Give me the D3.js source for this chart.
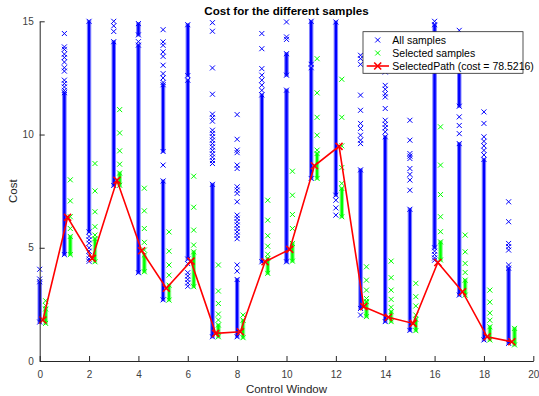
<!DOCTYPE html>
<html>
<head>
<meta charset="utf-8">
<script src="https://cdn.jsdelivr.net/npm/d3@7"></script>
<style>
  body { margin: 0; background: #fff; }
  svg { display: block; font-family: "Liberation Sans", Arial, Helvetica, sans-serif; }
</style>
</head>
<body>
<div id="chart"></div>
<script>
// control windows 0..19
const windows = [0,1,2,3,4,5,6,7,8,9,10,11,12,13,14,15,16,17,18,19];

// "All samples": dense stretches [lo, hi] and isolated markers, per window
const blueRuns = [
  [[1.72, 3.5]],
  [[4.7, 11.85]],
  [[5.7, 15.0]],
  [[7.75, 14.1]],
  [[14.4, 14.9], [3.9, 13.95]],
  [[9.25, 12.2], [2.7, 7.95]],
  [[12.6, 14.85], [4.5, 12.4]],
  [[1.07, 7.8]],
  [[1.07, 3.6]],
  [[4.38, 11.75]],
  [[12.62, 13.57], [4.38, 11.96]],
  [[13.1, 15.0], [8.06, 12.95]],
  [[7.32, 14.97]],
  [[2.32, 8.44]],
  [[1.74, 9.9]],
  [[1.35, 6.7]],
  [[5.0, 14.85]],
  [[11.25, 12.9], [2.91, 9.6]],
  [[0.93, 8.9]],
  [[0.78, 4.1]]
];
const blueSparse = [
  [4.05, 3.62],
  [14.46, 13.87, 13.76, 13.55, 13.4, 13.2, 12.95, 12.8, 12.4, 12.25, 12.1, 11.95],
  [5.5, 5.35, 5.2, 5.0, 4.85, 4.65, 4.5, 4.4],
  [15.0, 14.8, 14.55],
  [14.1],
  [14.63, 14.09, 13.94, 13.65, 13.45, 13.06, 12.69, 12.5, 12.3, 8.65],
  [4.3, 3.9, 3.75, 3.6, 3.45, 3.3],
  [14.94, 14.56, 12.94, 11.78, 10.9, 10.75, 10.59, 10.19, 10.05, 9.9, 9.75, 9.6, 9.45, 9.3, 9.15, 9.0, 8.85, 8.72],
  [10.88, 9.79, 9.31, 9.2, 8.65, 8.5, 7.69, 7.55, 7.4, 7.03, 6.44, 6.3, 6.15, 6.0, 5.85, 5.7, 5.55, 5.4, 4.24, 3.97],
  [14.46, 13.79, 12.91, 12.62, 12.4, 12.18, 11.95],
  [14.97, 14.31, 14.2],
  [],
  [7.1, 6.76, 6.44],
  [13.5, 13.35, 13.1, 11.74, 11.07, 10.49, 10.27, 9.97, 9.75, 9.6, 2.03],
  [13.5, 13.16, 12.76, 12.17, 12.0, 11.8, 11.66, 11.15, 10.63, 10.45, 10.3, 10.12],
  [10.63, 9.75, 9.16, 9.05, 8.94, 8.5, 8.24, 7.99, 7.54],
  [15.0, 4.85, 4.7, 4.55, 4.45],
  [14.6, 10.78, 10.4, 10.04],
  [11.0, 10.49, 9.9, 9.7, 9.5, 9.3, 9.1],
  [7.03, 6.15, 5.19, 5.05, 4.9, 4.24]
];

// "Selected samples"
const greenRuns = [
  [[1.66, 2.3]], [[4.7, 5.5]], [[4.38, 5.4]], [[7.76, 8.3]], [[3.94, 4.68]],
  [[2.69, 3.35]], [[3.28, 4.82]], [[1.07, 1.59]], [[1.03, 1.8]], [[3.87, 4.53]],
  [[4.41, 5.19]], [[8.06, 9.16]], [[6.37, 7.62]], [[1.96, 2.62]], [[1.74, 2.18]],
  [[1.34, 1.84]], [[4.46, 5.26]], [[2.91, 3.57]], [[0.93, 1.51]], [[0.71, 1.44]]
];
const greenSparse = [
  [2.66, 2.45],
  [8.0, 7.07, 6.37, 5.85],
  [8.72, 7.51, 6.59, 5.93, 5.56],
  [11.1, 10.07, 9.28, 8.69],
  [7.63, 6.63, 5.85, 5.24, 4.9],
  [5.7, 4.85, 4.24, 3.79],
  [8.16, 6.79, 5.78, 5.12],
  [4.24, 3.09, 2.54, 2.07, 1.81],
  [2.03],
  [7.1, 6.22, 5.53, 5.07, 4.71],
  [8.38, 7.32, 6.47, 5.85],
  [13.35, 11.84, 10.76, 9.97, 9.31],
  [12.44, 10.76, 9.5, 8.54, 7.84],
  [4.16, 3.57, 3.13, 2.76],
  [4.41, 3.68, 3.13, 2.72, 2.37],
  [3.43, 2.84, 2.43, 2.03],
  [10.34, 8.65, 7.35, 6.37, 5.71],
  [5.56, 4.82, 4.31, 3.91],
  [3.13, 2.6, 2.12, 1.8],
  []
];

// selected path cost per window
const pathCost = [1.81, 6.34, 4.53, 7.98, 4.87, 3.21, 4.41, 1.22, 1.29, 4.38,
                  4.93, 8.62, 9.48, 2.40, 1.93, 1.66, 4.35, 3.06, 1.07, 0.85];
const totalCost = "78.5216";

const xTicks = [0, 2, 4, 6, 8, 10, 12, 14, 16, 18, 20];
const yTicks = [0, 5, 10, 15];

const W = 539, H = 396;
const margin = { top: 21.3, right: 5.7, bottom: 35, left: 39.7 };
const innerW = W - margin.left - margin.right;
const innerH = H - margin.top - margin.bottom;

// horizontal offsets of each series inside a window
const OFF_PATH = 0.13, OFF_SEL = 0.24;

const svg = d3.select('#chart').append('svg')
    .attr('width', W)
    .attr('height', H);

const g = svg.append('g')
    .attr('transform', `translate(${margin.left},${margin.top})`);

const x = d3.scaleLinear().domain([0, 20]).range([0, innerW]);
const y = d3.scaleLinear().domain([0, 15]).range([innerH, 0]);

const axisColor = '#262626';

const xMark = s => `M${-s},${-s}L${s},${s}M${-s},${s}L${s},${-s}`;

function drawSeries(runs, sparse, offset, color, halo) {
  const layer = g.append('g');
  windows.forEach(k => {
    const cx = x(k + offset);
    runs[k].forEach(([lo, hi]) => {
      // a stack of overlapping markers reads as a solid bar with soft edges
      layer.append('rect')
        .attr('x', cx - 1.7)
        .attr('y', y(hi) - 1)
        .attr('width', 3.4)
        .attr('height', y(lo) - y(hi) + 2)
        .attr('fill', color)
        .attr('stroke', halo)
        .attr('stroke-width', 1);
      [lo, hi].forEach(v => layer.append('path')
        .attr('d', xMark(2.5))
        .attr('transform', `translate(${cx},${y(v)})`)
        .attr('stroke', color)
        .attr('fill', 'none'));
    });
    layer.selectAll(null)
      .data(sparse[k])
      .enter().append('path')
        .attr('d', xMark(2.5))
        .attr('transform', v => `translate(${cx},${y(v)})`)
        .attr('stroke', color)
        .attr('fill', 'none');
  });
}

drawSeries(blueRuns, blueSparse, 0, '#0000ff', '#8080ff');
drawSeries(greenRuns, greenSparse, OFF_SEL, '#00ff00', '#90ff90');

// selected path
const line = d3.line()
  .x((d, i) => x(windows[i] + OFF_PATH))
  .y(d => y(d));

g.append('path')
  .datum(pathCost)
  .attr('d', line)
  .attr('fill', 'none')
  .attr('stroke', '#ff0000')
  .attr('stroke-width', 1.6);

g.selectAll('.pm')
  .data(pathCost)
  .enter().append('path')
    .attr('class', 'pm')
    .attr('d', xMark(3.5))
    .attr('transform', (d, i) => `translate(${x(windows[i] + OFF_PATH)},${y(d)})`)
    .attr('stroke', '#ff0000')
    .attr('stroke-width', 1.6)
    .attr('fill', 'none');

// axes (box off, ticks inward)
const xAxis = g.append('g')
  .attr('transform', `translate(0,${innerH})`)
  .call(d3.axisBottom(x).tickValues(xTicks).tickSize(-5).tickPadding(7).tickSizeOuter(0));
const yAxis = g.append('g')
  .call(d3.axisLeft(y).tickValues(yTicks).tickSize(-5).tickPadding(6).tickSizeOuter(0));

[xAxis, yAxis].forEach(a => {
  a.select('.domain').attr('stroke', axisColor);
  a.selectAll('.tick line').attr('stroke', axisColor);
  a.selectAll('.tick text')
    .attr('fill', '#404040')
    .style('font-size', '10px');
});
xAxis.selectAll('.tick text').attr('dy', '0.95em');

// title and labels
svg.append('text')
  .attr('x', margin.left + innerW / 2)
  .attr('y', 15)
  .attr('text-anchor', 'middle')
  .style('font-size', '11.6px')
  .style('font-weight', 'bold')
  .attr('fill', '#000')
  .text('Cost for the different samples');

svg.append('text')
  .attr('x', margin.left + innerW / 2)
  .attr('y', 393)
  .attr('text-anchor', 'middle')
  .style('font-size', '11.5px')
  .attr('fill', '#262626')
  .text('Control Window');

svg.append('text')
  .attr('transform', `translate(17,${margin.top + innerH / 2}) rotate(-90)`)
  .attr('text-anchor', 'middle')
  .style('font-size', '11.5px')
  .attr('fill', '#262626')
  .text('Cost');

// legend
const legend = svg.append('g').attr('transform', 'translate(363,31.7)');
legend.append('rect')
  .attr('width', 160)
  .attr('height', 41.6)
  .attr('fill', '#fff')
  .attr('stroke', axisColor)
  .attr('stroke-width', 0.8);

const legendItems = [
  { label: 'All samples', color: '#0000ff', line: false },
  { label: 'Selected samples', color: '#00ff00', line: false },
  { label: `SelectedPath (cost = ${totalCost})`, color: '#ff0000', line: true }
];
legendItems.forEach((d, i) => {
  const row = legend.append('g').attr('transform', `translate(0,${8.3 + i * 13})`);
  if (d.line) {
    row.append('line')
      .attr('x1', 3.7).attr('x2', 26)
      .attr('stroke', d.color).attr('stroke-width', 1.6);
  }
  row.append('path')
    .attr('d', xMark(d.line ? 3.5 : 2.5))
    .attr('transform', 'translate(14.7,0)')
    .attr('stroke', d.color)
    .attr('stroke-width', d.line ? 1.6 : 1)
    .attr('fill', 'none');
  row.append('text')
    .attr('x', 29.3)
    .attr('dy', '0.35em')
    .style('font-size', '10.5px')
    .attr('fill', '#000')
    .text(d.label);
});
</script>
</body>
</html>
